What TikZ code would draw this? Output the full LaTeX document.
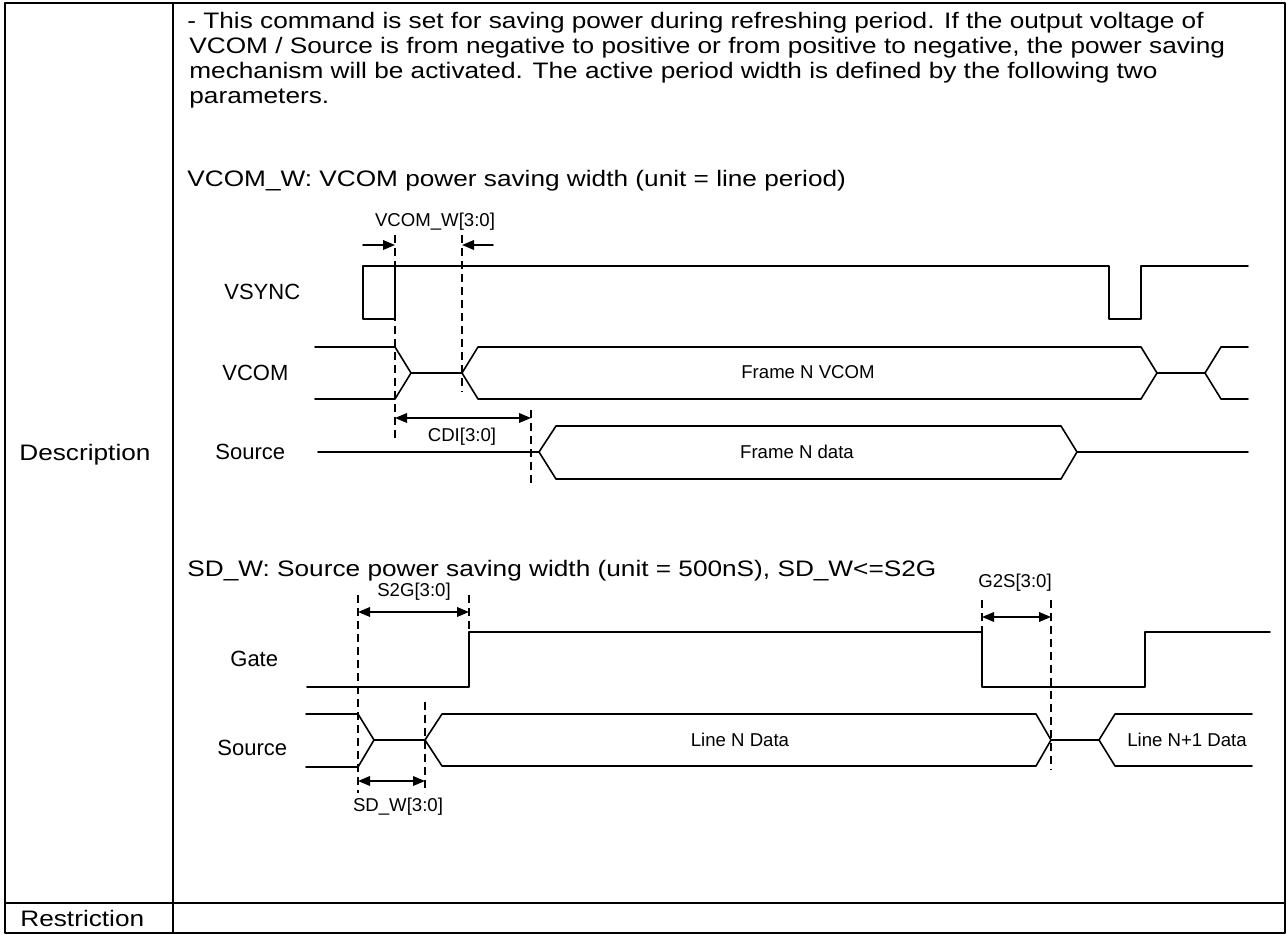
\documentclass[tikz,border=0pt]{standalone}
\usepackage{fontspec}
\setmainfont{Liberation Sans}[FakeStretch=1.17]
\newfontfamily\sigfont{Liberation Sans}
\usetikzlibrary{arrows.meta}
\usetikzlibrary{positioning}

\begin{document}
\begin{tikzpicture}[line cap=round,line join=round,>={Triangle[length=6pt,width=4.8pt]},x=0.5pt,y=-0.5pt,
  frame/.style={line width=1pt},
  sig/.style={line width=0.8pt},
  guide/.style={line width=0.6pt,line cap=butt,dash pattern=on 4pt off 2.5pt},
  dim/.style={line width=0.8pt},
  bodytext/.style={anchor=base west,inner sep=0pt,font=\fontsize{11.2}{13.4}\selectfont},
  signame/.style={anchor=west,inner sep=0pt,font=\sigfont\fontsize{11}{13}\selectfont},
  tag/.style={inner sep=0pt,font=\sigfont\fontsize{9.3}{11}\selectfont}]
\useasboundingbox (0,0) rectangle (1287,935);
\draw[frame] (5,3) rectangle (1285,933);
\draw[frame] (173,3) -- (173,933);
\draw[frame] (5,903) -- (1285,903);
\node[bodytext,anchor=west] (desc) at (19,455) {Description};
\node[bodytext,anchor=west] (restr) at (20,918) {Restriction};
\node[bodytext] (line1) at (187,29) {- This command is set for saving power during refreshing period. If the output voltage of};
\node[bodytext] (line2) at (189,54) {VCOM / Source is from negative to positive or from positive to negative, the power saving};
\node[bodytext] (line3) at (189,79) {mechanism will be activated. The active period width is defined by the following two};
\node[bodytext] (line4) at (189,104) {parameters.};
\node[bodytext] (headvcom) at (187,187) {VCOM\_W: VCOM power saving width (unit = line period)};
\node[bodytext] (headsd) at (187,577) {SD\_W: Source power saving width (unit = 500nS), SD\_W<=S2G};
% signal names
\node[signame] (vsync) at (224,292) {VSYNC};
\node[signame] (vcom) at (222,373) {VCOM};
\node[signame] (srcup) at (215,452) {Source};
\node[signame] (gate) at (230,659) {Gate};
\node[signame] (srclo) at (217,748) {Source};
% frame timing
\draw[sig] (395,266) -- (395,319) -- (363,319) -- (363,266) -- (1109,266) -- (1109,319) -- (1141,319) -- (1141,266) -- (1248,266);
\draw[sig] (315,347) -- (395,347) -- (411,373) -- (395,399) -- (315,399);
\draw[sig] (411,373) -- (462,373);
\draw[sig] (462,373) -- (478,347) -- (1141,347) -- (1157,373) -- (1141,399) -- (478,399) -- cycle;
\draw[sig] (1157,373) -- (1205,373);
\draw[sig] (1248,347) -- (1221,347) -- (1205,373) -- (1221,399) -- (1248,399);
\node[tag] (fvcom) at (808,372) {Frame N VCOM};
\draw[sig] (318,452) -- (539,452);
\draw[sig] (539,452) -- (556,426) -- (1061,426) -- (1077,452) -- (1061,479) -- (556,479) -- cycle;
\draw[sig] (1077,452) -- (1248,452);
\node[tag] (fdata) at (797,452) {Frame N data};
% line timing
\draw[sig] (307,687) -- (469,687) -- (469,632) -- (982,632) -- (982,687) -- (1145,687) -- (1145,632) -- (1270,632);
\draw[sig] (306,714) -- (358,714) -- (374,740) -- (358,767) -- (306,767);
\draw[sig] (374,740) -- (425,740);
\draw[sig] (425,740) -- (442,714) -- (1036,714) -- (1051,740) -- (1036,766) -- (442,766) -- cycle;
\draw[sig] (1051,740) -- (1099,740);
\draw[sig] (1252,714) -- (1115,714) -- (1099,740) -- (1115,766) -- (1252,766);
\node[tag] (linen) at (740,740) {Line N Data};
\node[tag] (linenext) at (1187,740) {Line N+1 Data};
% guides
\foreach \gx/\ga/\gb in {395/235/438,462/235/392,531/410/485,358/595/793,469/595/632,425/702/793,982/600/632,1051/600/770}
\draw[guide] (\gx,\ga) -- (\gx,\gb);
% widths
\coordinate (vcomwL) at (363,245);
\coordinate (vcomwA) at (395,245);
\coordinate (vcomwB) at (462,245);
\coordinate (vcomwR) at (493,245);
\coordinate (cdiA) at (395,418);
\coordinate (cdiB) at (531,418);
\coordinate (s2gA) at (358,612);
\coordinate (s2gB) at (469,612);
\coordinate (sdwA) at (358,781);
\coordinate (sdwB) at (425,781);
\coordinate (g2sA) at (982,617);
\coordinate (g2sB) at (1051,617);
\draw[dim,->] (vcomwL) -- (vcomwA);
\draw[dim,->] (vcomwR) -- (vcomwB);
\draw[dim,<->] (cdiA) -- (cdiB);
\draw[dim,<->] (s2gA) -- (s2gB);
\draw[dim,<->] (sdwA) -- (sdwB);
\draw[dim,<->] (g2sA) -- (g2sB);
\node[tag] (vcomwlab) at (435,222) {VCOM\_W[3:0]};
\node[tag] (cdilab) at (462,437) {CDI[3:0]};
\node[tag] (s2glab) at (414,592) {S2G[3:0]};
\node[tag] (sdwlab) at (398,807) {SD\_W[3:0]};
\node[tag] (g2slab) at (1015,583) {G2S[3:0]};
\end{tikzpicture}
\end{document}
